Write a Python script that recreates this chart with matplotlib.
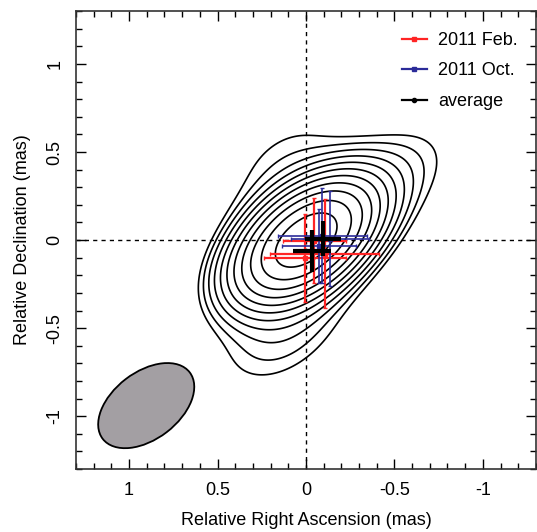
import numpy as np
import matplotlib
matplotlib.use("Agg")
import matplotlib.pyplot as plt
from matplotlib.patches import Ellipse
from matplotlib.lines import Line2D

plt.rcParams['font.family'] = ['Liberation Sans', 'DejaVu Sans']

# ---- data ----
feb_x = [0.003, -0.048, -0.105]
feb_y = [-0.099, -0.003, -0.077]
feb_xerr = [0.232, 0.18, 0.31]
feb_yerr = [0.25, 0.24, 0.31]

oct_x = [-0.093, -0.136, -0.074]
oct_y = [0.026, 0.009, -0.031]
oct_xerr = [0.25, 0.22, 0.21]
oct_yerr = [0.27, 0.27, 0.21]

avg_x = [-0.034, -0.096]
avg_y = [-0.06, 0.009]
avg_xerr = [0.11, 0.10]
avg_yerr = [0.12, 0.10]

# source model components (x, y, amplitude, sigma_major, sigma_minor, angle deg)
comp_x = [0.0, 0.13, -0.52, 0.12]
comp_y = [0.0, 0.45, 0.38, -0.52]
comp_amp = [1.0, 0.026, 0.029, 0.040]
comp_smaj = [0.255, 0.30, 0.30, 0.30]
comp_smin = [0.145, 0.18, 0.18, 0.18]
comp_pa = [142.4, 142.4, 142.4, 142.4]
contour_levels = [0.74 * 0.5 ** (k / 2) for k in range(10, -1, -1)]

# restoring beam (x, y, width, height, angle)
beam = dict(x=0.903, y=-0.94, w=0.62, h=0.38, angle=142.4)

# ---- figure ----
fig = plt.figure(figsize=(5.37, 5.32), dpi=100)
ax = fig.add_axes([0.1415, 0.1184, 0.8565, 0.8606])

gx = np.linspace(-1.3, 1.3, 521)
gy = np.linspace(-1.3, 1.3, 521)
X, Y = np.meshgrid(gx, gy)
Z = np.zeros_like(X)
for cx, cy, a, sa, sb, pa in zip(comp_x, comp_y, comp_amp, comp_smaj, comp_smin, comp_pa):
    t = np.deg2rad(pa)
    dx, dy = X - cx, Y - cy
    u = dx * np.cos(t) + dy * np.sin(t)
    v = -dx * np.sin(t) + dy * np.cos(t)
    Z += a * np.exp(-0.5 * ((u / sa) ** 2 + (v / sb) ** 2))
ax.contour(X, Y, Z, levels=contour_levels, colors='black', linewidths=1.2)

ax.axhline(0, color='black', lw=1.0, ls=(0, (3, 3)), zorder=1)
ax.axvline(0, color='black', lw=1.0, ls=(0, (3, 3)), zorder=1)

ax.add_patch(Ellipse((beam['x'], beam['y']), beam['w'], beam['h'], angle=beam['angle'],
                     facecolor='#a39fa3', edgecolor='black', lw=1.3))

red = '#ff2424'
blue = '#2b2b99'
ax.errorbar(feb_x, feb_y, xerr=feb_xerr, yerr=feb_yerr, fmt='s', color=red, ms=3,
            lw=1.6, capsize=1.5, zorder=3)
ax.errorbar(oct_x, oct_y, xerr=oct_xerr, yerr=oct_yerr, fmt='s', color=blue, ms=2.5,
            lw=1.2, capsize=1.5, zorder=3)
ax.errorbar(avg_x, avg_y, xerr=avg_xerr, yerr=avg_yerr, fmt='o', color='black', ms=3,
            lw=3.0, capsize=0, zorder=4)

handles = [Line2D([], [], color=red, marker='s', ms=3, lw=1.6),
           Line2D([], [], color=blue, marker='s', ms=3, lw=1.6),
           Line2D([], [], color='black', marker='o', ms=3, lw=1.6)]
ax.legend(handles, ['2011 Feb.', '2011 Oct.', 'average'], loc='upper right',
          frameon=False, fontsize=13, handlelength=1.4, handletextpad=0.6,
          labelspacing=0.75, borderaxespad=0.75, bbox_to_anchor=(1.005, 1.0))

ax.set_xlim(1.3, -1.3)
ax.set_ylim(-1.3, 1.3)
ax.set_xticks([1, 0.5, 0, -0.5, -1])
ax.set_xticklabels(['1', '0.5', '0', '-0.5', '-1'])
ax.set_yticks([-1, -0.5, 0, 0.5, 1])
ax.set_yticklabels(['-1', '-0.5', '0', '0.5', '1'], rotation=90, va='center')
ax.set_xticks(np.arange(-1.3, 1.31, 0.1), minor=True)
ax.set_yticks(np.arange(-1.3, 1.31, 0.1), minor=True)
ax.tick_params(which='both', direction='in', top=True, right=True, labelsize=13)
ax.tick_params(which='major', length=7, width=1.0, pad=9)
ax.tick_params(which='minor', length=4, width=1.0)
for s in ax.spines.values():
    s.set_linewidth(1.2)
    s.set_color('#333333')
ax.set_xlabel('Relative Right Ascension (mas)', fontsize=13, labelpad=10)
ax.set_ylabel('Relative Declination (mas)', fontsize=13, labelpad=11)

fig.savefig('out.png', dpi=100)
